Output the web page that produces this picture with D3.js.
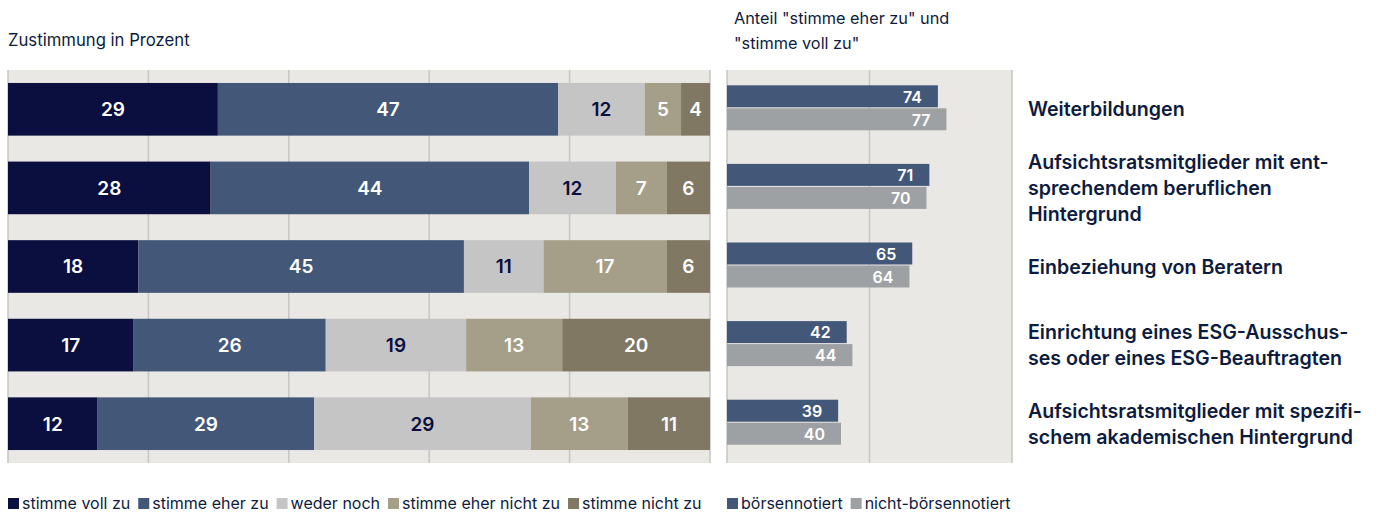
<!DOCTYPE html>
<html><head><meta charset="utf-8">
<script src="https://cdn.jsdelivr.net/npm/d3@7"></script>
<style>
body{margin:0;background:#fff;}
svg{display:block;}
</style></head>
<body>
<svg id="chart" width="1381" height="514"></svg>
<script>
const categories = [
  ["Weiterbildungen"],
  ["Aufsichtsratsmitglieder mit ent-", "sprechendem beruflichen", "Hintergrund"],
  ["Einbeziehung von Beratern"],
  ["Einrichtung eines ESG-Ausschus-", "ses oder eines ESG-Beauftragten"],
  ["Aufsichtsratsmitglieder mit spezifi-", "schem akademischen Hintergrund"]
];
const seriesNames = ["stimme voll zu", "stimme eher zu", "weder noch", "stimme eher nicht zu", "stimme nicht zu"];
const vollZu      = [29, 28, 18, 17, 12];
const eherZu      = [47, 44, 45, 26, 29];
const wederNoch   = [12, 12, 11, 19, 29];
const eherNicht   = [5, 7, 17, 13, 13];
const nichtZu     = [4, 6, 6, 20, 11];
const groupNames  = ["börsennotiert", "nicht-börsennotiert"];
const boersen     = [74, 71, 65, 42, 39];
const nichtBoersen= [77, 70, 64, 44, 40];
const leftTicks   = [0, 20, 40, 60, 80, 100];
const rightTicks  = [0, 50, 100];

(function(){
const segColors = ["#0a0f3f", "#435878", "#c5c5c5", "#a59e89", "#807862"];
const segText   = ["#fff", "#fff", "#0a0f3f", "#fff", "#fff"];
const grpColors = ["#435878", "#9ea1a3"];
const navy = "#0d1b3e";
const FF = "Inter, 'Liberation Sans', Arial, sans-serif";

const svg = d3.select("#chart");
const yTop = 70, yBot = 463;
const L = {x0: 8, x1: 710};
const R = {x0: 727, x1: 1012};

const y = d3.scaleBand().domain(d3.range(categories.length)).range([yTop, yBot]).paddingInner(0.33).paddingOuter(0.165);

svg.append("rect").attr("x", L.x0).attr("y", yTop).attr("width", L.x1 - L.x0).attr("height", yBot - yTop).attr("fill", "#eae8e4");
svg.append("rect").attr("x", R.x0).attr("y", yTop).attr("width", R.x1 - R.x0).attr("height", yBot - yTop).attr("fill", "#eae8e4");

const xPct = d3.scaleLinear().domain([0, 100]).range([L.x0, L.x1]);
const xR = d3.scaleLinear().domain([0, 100]).range([R.x0, R.x1]);

svg.append("g").selectAll("line").data(leftTicks).join("line")
  .attr("x1", d => xPct(d)).attr("x2", d => xPct(d)).attr("y1", yTop).attr("y2", yBot)
  .attr("stroke", "#c6c6c6").attr("stroke-width", 1.5);
svg.append("g").selectAll("line").data(rightTicks).join("line")
  .attr("x1", d => xR(d)).attr("x2", d => xR(d)).attr("y1", yTop).attr("y2", yBot)
  .attr("stroke", "#c6c6c6").attr("stroke-width", 1.5);

const seriesVals = [vollZu, eherZu, wederNoch, eherNicht, nichtZu];
const rows = categories.map((c, i) => {
  const o = {i};
  seriesNames.forEach((s, k) => o[s] = seriesVals[k][i]);
  return o;
});
const stacked = d3.stack().keys(seriesNames).offset(d3.stackOffsetExpand)(rows);
const xS = d3.scaleLinear().domain([0, 1]).range([L.x0, L.x1]);

const g = svg.append("g");
stacked.forEach((layer, k) => {
  g.selectAll(null).data(layer).join("rect")
    .attr("x", d => xS(d[0])).attr("width", d => xS(d[1]) - xS(d[0]))
    .attr("y", (d, i) => y(i)).attr("height", y.bandwidth())
    .attr("fill", segColors[k]);
  g.selectAll(null).data(layer).join("text")
    .attr("x", d => (xS(d[0]) + xS(d[1])) / 2)
    .attr("y", (d, i) => y(i) + y.bandwidth() / 2)
    .attr("dy", "0.36em").attr("text-anchor", "middle")
    .attr("fill", segText[k])
    .style("font", "600 19px " + FF)
    .text((d, i) => seriesVals[k][i]);
});

const inner = d3.scaleBand().domain([0, 1]).range([0, 46]);
const grpVals = [boersen, nichtBoersen];
grpVals.forEach((vals, k) => {
  svg.append("g").selectAll("rect").data(vals).join("rect")
    .attr("x", xR(0)).attr("width", d => xR(d) - xR(0))
    .attr("y", (d, i) => y(i) + y.bandwidth() / 2 - 24 + inner(k)).attr("height", inner.bandwidth() - 1)
    .attr("fill", grpColors[k]);
  svg.append("g").selectAll("text").data(vals).join("text")
    .attr("x", d => xR(d) - 16)
    .attr("y", (d, i) => y(i) + y.bandwidth() / 2 - 24 + inner(k) + inner.bandwidth() / 2)
    .attr("dy", "0.36em").attr("text-anchor", "end").attr("fill", "#fff")
    .style("font", "600 16px " + FF)
    .text(d => d);
});

categories.forEach((lines, i) => {
  const cy = y(i) + y.bandwidth() / 2;
  const lh = 26;
  const t = svg.append("text").attr("x", 1028).attr("fill", navy)
    .style("font", "600 19.6px " + FF);
  lines.forEach((ln, j) => {
    t.append("tspan").attr("x", 1028)
      .attr("y", cy + (j - (lines.length - 1) / 2) * lh).attr("dy", "0.36em").text(ln);
  });
});

const titleFont = "16.3px " + FF;
svg.append("text").attr("x", 8).attr("y", 46).attr("fill", navy).style("font", "16.7px " + FF).text("Zustimmung in Prozent");
svg.append("text").attr("x", 734).attr("y", 24).attr("fill", navy).style("font", titleFont).text("Anteil \"stimme eher zu\" und");
svg.append("text").attr("x", 734).attr("y", 49).attr("fill", navy).style("font", titleFont).text("\"stimme voll zu\"");

function legend(x0, names, colors) {
  let x = x0;
  const lg = svg.append("g");
  names.forEach((n, k) => {
    lg.append("rect").attr("x", x).attr("y", 498).attr("width", 11).attr("height", 11).attr("fill", colors[k]);
    const t = lg.append("text").attr("x", x + 14).attr("y", 509).attr("fill", navy).style("font", "16px " + FF).text(n);
    x += 14 + t.node().getComputedTextLength() + 8;
  });
}
legend(8, seriesNames, segColors);
legend(727, groupNames, grpColors);
})();
</script>
</body></html>
